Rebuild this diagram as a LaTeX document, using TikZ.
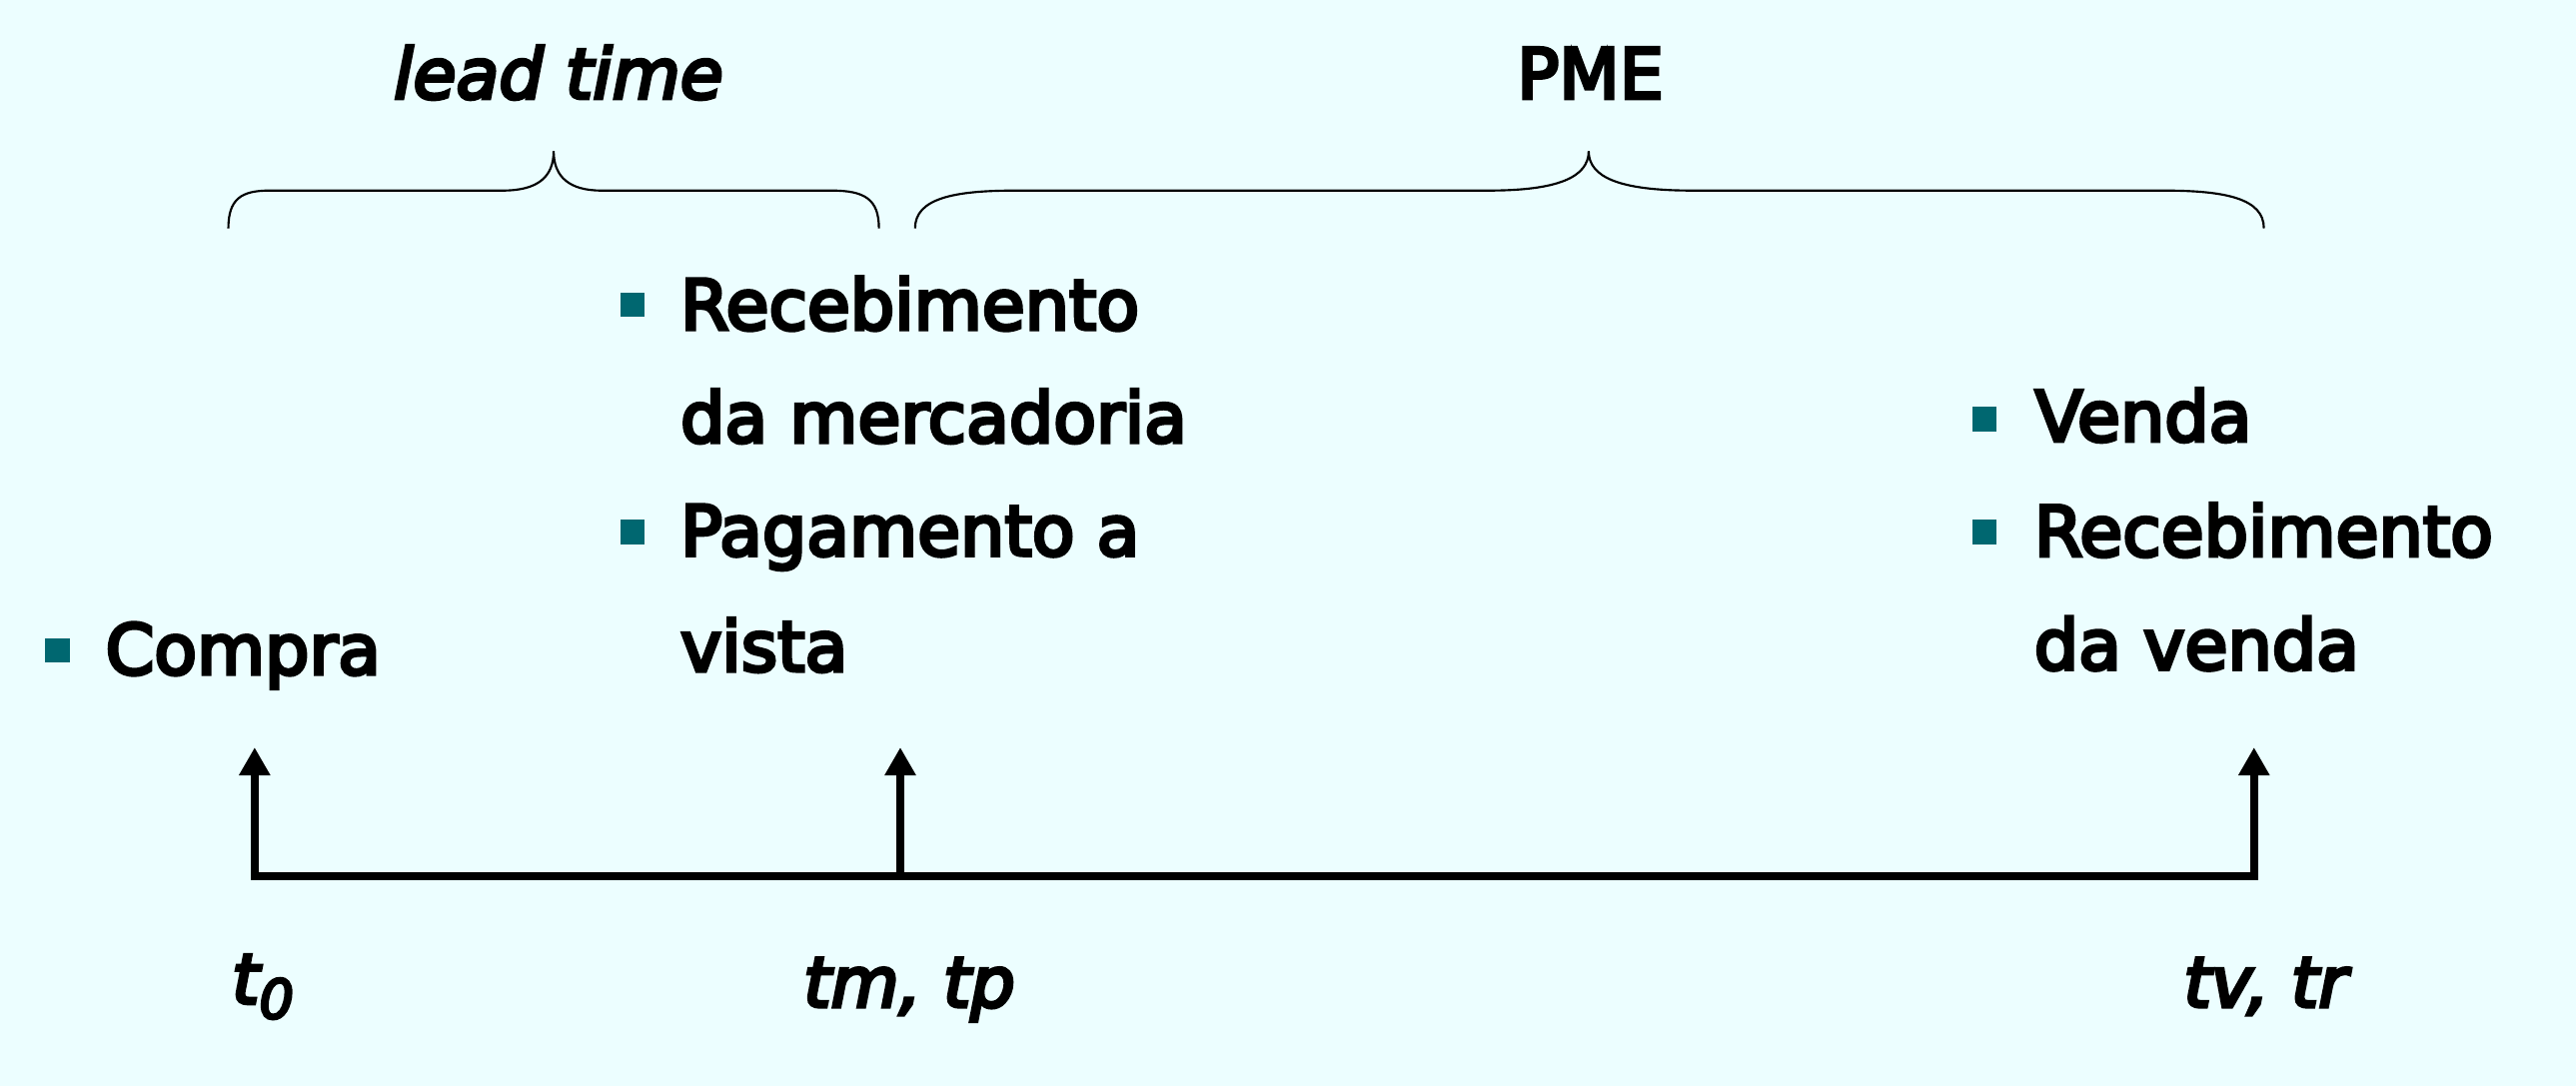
\documentclass[tikz,border=0pt]{standalone}
\usepackage{fontspec}
\setmainfont{DejaVu Sans}
\newfontfamily\letra{DejaVu Sans}[FakeBold=5]
\usetikzlibrary{arrows.meta}
\definecolor{fundo}{RGB}{236,254,255}
\definecolor{marca}{RGB}{0,103,112}
\tikzset{
  txt/.style={anchor=base west,inner sep=0pt,font=\letra\fontsize{42.5}{50}\selectfont},
  lbl/.style={anchor=base,inner sep=0pt,font=\letra\fontsize{42.5}{50}\selectfont\itshape},
  bul/.style={fill=marca,minimum size=15pt,inner sep=0pt},
  eixo/.style={line width=4.7pt},
  seta/.style={eixo,-{Triangle[width=18pt,length=17pt]}},
  chave/.style={line width=1.3pt}
}
\begin{document}
\begin{tikzpicture}[x=1pt,y=-1pt]
            \fill[fundo] (0,0) rectangle (1568,661);
            \useasboundingbox (0,0) rectangle (1568,661);
            % eixo do tempo
            \coordinate (a) at (155,533.5);
            \coordinate (b) at (548,533.5);
            \coordinate (c) at (1372,533.5);
            \coordinate (a1) at (155,455);
            \coordinate (b1) at (548,455);
            \coordinate (c1) at (1372,455);
            \draw[seta,{Triangle[width=18pt,length=17pt]}-{Triangle[width=18pt,length=17pt]},line join=miter] (a1)--(a)--(c)--(c1);
            \draw[seta] (b)--(b1);
            % chaves
            \draw[chave] (139,139) .. controls (139,121) and (147,116) .. (164,116) -- (306,116)
                .. controls (327,116) and (337,108) .. (337,92)
                .. controls (337,108) and (347,116) .. (366,116) -- (506,116)
                .. controls (526,116) and (535,121) .. (535,139);
            \draw[chave] (557,139) .. controls (557,121) and (580,116) .. (618,116) -- (906,116)
                .. controls (948,116) and (967,108) .. (967,92)
                .. controls (967,108) and (986,116) .. (1030,116) -- (1317,116)
                .. controls (1355,116) and (1378,121) .. (1378,139);
            \node[lbl] (lt) at (340,60) {lead time};
            \node[lbl,font=\letra\fontsize{42.5}{50}\selectfont] (pme) at (968,60) {PME};
            % eventos
            \node[bul] (q1) at (35,396) {};
            \node[txt] (cp) at (64,410.5) {Compra};
            \node[bul] (q2) at (385,185.5) {};
            \node[txt] (rm) at (414,200.7) {Recebimento};
            \node[txt] (dm) at (414,269.3) {da mercadoria};
            \node[bul] (q3) at (385,324) {};
            \node[txt] (pg) at (414,338.2) {Pagamento a};
            \node[txt] (vs) at (414,408.6) {vista};
            \node[bul] (q4) at (1208,255) {};
            \node[txt] (vd) at (1238.5,268.6) {Venda};
            \node[bul] (q5) at (1208,324) {};
            \node[txt] (rv) at (1238,338.6) {Recebimento};
            \node[txt] (dv) at (1238,407.6) {da venda};
            % instantes
            \node[lbl] (t0) at (160,611) {t{\fontsize{33}{33}\selectfont\raisebox{-9pt}{0}}};
            \node[lbl] (tm) at (553.5,613) {tm, tp};
            \node[lbl] (tv) at (1379,613) {tv, tr};
\end{tikzpicture}
\end{document}
